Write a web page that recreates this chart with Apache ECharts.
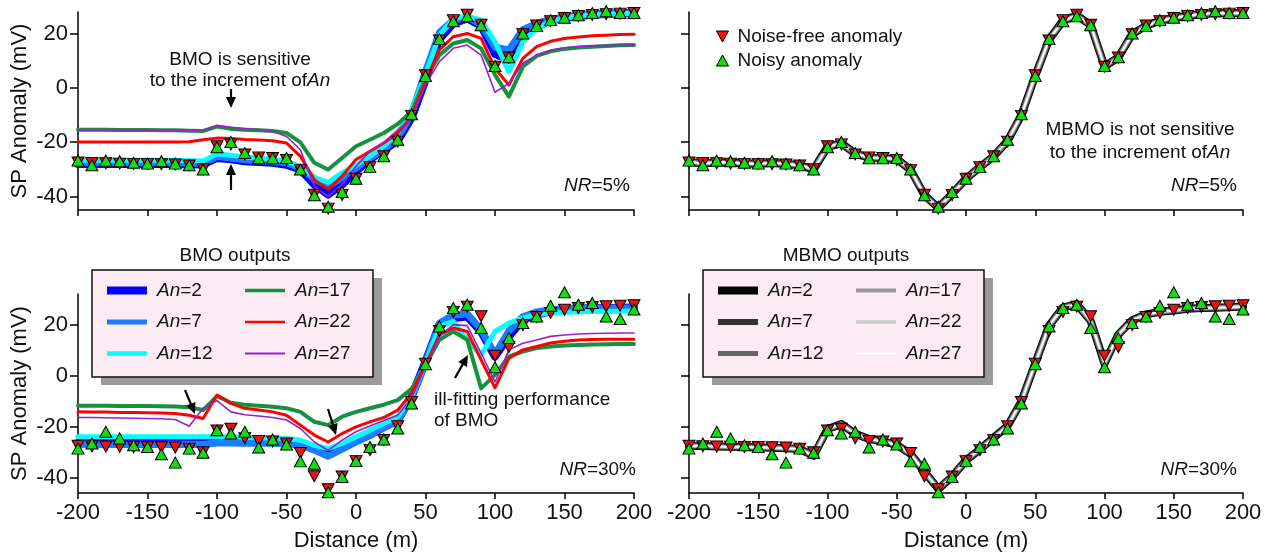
<!DOCTYPE html>
<html><head><meta charset="utf-8">
<script src="https://cdn.jsdelivr.net/npm/echarts@6/dist/echarts.min.js"></script>
<style>html,body{margin:0;padding:0;background:#fff}#c{width:1270px;height:554px}</style>
</head><body><div id="c"></div>
<script>
// ---------- data ----------
const distance = [-200,-190,-180,-170,-160,-150,-140,-130,-120,-110,-100,-90,-80,-70,-60,-50,-40,-30,-20,-10,0,10,20,30,40,50,60,70,80,90,100,110,120,130,140,150,160,170,180,190,200];
const xTicks = [-200,-150,-100,-50,0,50,100,150,200];
const yTicks = [-40,-20,0,20];

const noiseFree = [-27.5,-27.7,-27.8,-27.9,-28.0,-28.0,-28.1,-28.2,-28.6,-30.0,-21.5,-20.8,-24.5,-25.6,-25.8,-26.6,-30.3,-39.4,-44.5,-39.5,-33.5,-29.2,-25.2,-19.8,-10.3,4.7,17.5,25.0,27.0,23.3,7.8,11.2,19.8,23.0,24.6,25.8,26.5,26.9,27.2,27.4,27.6];
const noisy5 = [-26.8,-28.5,-26.8,-27.0,-27.6,-27.9,-27.0,-27.9,-28.5,-30.1,-21.9,-19.9,-24.0,-25.9,-25.9,-25.8,-30.1,-39.6,-43.8,-38.4,-33.5,-29.2,-25.2,-19.1,-9.7,4.4,18.0,24.6,26.4,23.1,8.1,11.3,20.1,22.8,25.0,25.9,26.8,27.6,28.3,27.6,27.6];
const noisy30 = [-28.6,-26.6,-22.0,-24.6,-27.3,-28.0,-30.8,-34.1,-28.6,-30.2,-21.4,-22.7,-22.0,-28.2,-25.0,-27.0,-33.6,-34.5,-45.7,-39.7,-33.5,-28.0,-25.0,-20.7,-10.9,4.5,19.3,26.5,27.8,18.7,3.3,14.7,20.6,23.2,27.4,32.7,27.8,28.5,23.2,22.2,25.9];

// BMO outputs, NR = 5%
const bmo5_An2  = [-28.0,-28.0,-28.0,-28.0,-28.0,-28.0,-28.0,-28.0,-28.1,-28.2,-25.8,-26.3,-27.0,-27.3,-27.6,-28.3,-30.1,-35.6,-39.3,-35.6,-30.7,-26.4,-22.8,-19.5,-11.0,3.0,18.0,23.8,25.6,23.0,12.5,10.5,19.5,22.6,24.8,25.9,26.5,27.0,27.3,27.5,27.6];
const bmo5_An7  = [-27.6,-27.6,-27.6,-27.6,-27.6,-27.6,-27.6,-27.6,-27.7,-27.8,-25.3,-25.8,-26.5,-26.8,-27.0,-27.6,-29.5,-33.5,-36.2,-33.0,-29.5,-26.0,-22.5,-18.5,-9.5,6.0,20.5,25.0,26.0,23.5,15.0,14.0,21.5,23.8,25.3,26.2,26.8,27.1,27.3,27.5,27.6];
const bmo5_An12 = [-26.7,-26.7,-26.7,-26.7,-26.7,-26.7,-26.7,-26.7,-26.8,-26.9,-24.3,-24.8,-25.5,-25.9,-26.2,-27.0,-29.0,-33.1,-34.8,-31.3,-28.5,-25.2,-21.5,-16.6,-8.0,5.0,19.4,25.6,26.5,25.0,17.0,6.0,17.0,22.0,24.5,25.8,26.5,27.0,27.2,27.4,27.5];
const bmo5_An17 = [-15.4,-15.4,-15.4,-15.5,-15.5,-15.5,-15.6,-15.6,-15.8,-15.9,-14.2,-15.1,-15.4,-15.6,-15.9,-16.6,-20.1,-27.6,-30.1,-25.8,-21.5,-19.1,-16.6,-13.3,-8.7,3.5,12.1,16.4,17.7,14.6,4.8,-3.2,7.8,11.8,13.5,14.4,14.9,15.2,15.5,15.7,15.8];
const bmo5_An22 = [-19.9,-19.9,-19.9,-19.9,-19.9,-19.9,-19.9,-19.9,-19.8,-19.1,-18.5,-18.6,-19.0,-19.2,-19.5,-20.3,-25.2,-33.8,-37.4,-32.5,-26.4,-23.4,-20.3,-16.6,-10.5,2.3,14.0,18.9,20.1,18.3,7.2,1.1,10.9,15.2,17.2,18.2,18.8,19.2,19.4,19.7,19.8];
const bmo5_An27 = [-15.7,-15.7,-15.7,-15.7,-15.7,-15.7,-15.7,-15.7,-15.7,-15.5,-13.9,-14.5,-15.0,-15.3,-16.0,-17.9,-22.8,-36.2,-40.1,-35.6,-28.9,-23.4,-20.1,-15.5,-11.0,1.1,9.7,14.6,15.8,12.1,-1.6,1.7,9.1,12.1,13.9,14.8,15.2,15.5,15.6,15.8,15.9];

// BMO outputs, NR = 30%
const bmo30_An2  = [-26.4,-26.4,-26.4,-26.4,-26.4,-26.4,-26.4,-26.4,-26.4,-26.4,-25.7,-25.7,-25.8,-25.8,-25.8,-25.9,-26.4,-28.4,-30.6,-28.0,-25.3,-23.0,-20.1,-17.6,-8.3,5.5,20.0,22.6,23.2,17.3,7.5,15.4,21.9,23.9,25.2,25.9,26.3,26.4,26.5,26.6,26.7];
const bmo30_An7  = [-27.0,-27.0,-27.0,-27.0,-27.0,-27.0,-27.0,-27.0,-27.0,-27.0,-26.4,-26.4,-26.5,-26.5,-26.5,-26.6,-27.2,-29.2,-31.6,-28.8,-26.0,-23.5,-20.5,-17.8,-8.5,5.0,20.5,23.8,24.2,18.0,8.4,17.5,23.1,25.0,25.8,26.2,26.5,26.5,26.5,26.5,26.5];
const bmo30_An12 = [-24.0,-24.0,-24.0,-24.0,-24.0,-24.0,-24.0,-24.0,-24.0,-24.0,-24.0,-24.0,-24.2,-24.3,-24.4,-24.6,-25.3,-27.3,-28.6,-26.6,-24.0,-21.4,-18.8,-16.1,-8.3,4.9,19.3,21.3,14.0,8.1,17.3,20.6,22.6,23.9,24.5,24.8,25.0,25.1,25.2,25.2,25.3];
const bmo30_An17 = [-11.8,-11.8,-11.8,-11.9,-11.9,-11.9,-12.0,-12.1,-12.4,-13.5,-8.0,-10.6,-11.4,-11.8,-12.2,-12.8,-14.2,-18.1,-19.4,-16.1,-14.2,-12.8,-11.4,-9.6,-5.2,4.2,14.1,17.3,14.1,-5.0,0.3,7.5,9.4,10.8,11.4,11.8,12.0,12.2,12.3,12.4,12.4];
const bmo30_An22 = [-14.2,-14.3,-14.3,-14.4,-14.4,-14.5,-14.6,-14.8,-15.5,-16.8,-7.6,-10.9,-12.8,-13.5,-14.2,-15.5,-19.4,-23.3,-26.0,-22.7,-20.1,-18.1,-16.4,-13.5,-6.9,4.2,16.0,18.7,17.3,6.2,-4.8,6.8,10.1,11.4,12.8,13.5,14.0,14.2,14.3,14.3,14.3];
const bmo30_An27 = [-16.4,-16.4,-16.5,-16.6,-16.7,-16.8,-16.9,-17.2,-19.8,-12.8,-9.8,-14.2,-15.3,-15.8,-16.4,-17.4,-20.7,-26.0,-29.3,-25.3,-22.0,-19.7,-17.6,-15.5,-8.9,3.5,15.4,20.0,19.6,8.8,-2.5,10.1,12.7,14.0,15.4,15.9,16.3,16.5,16.6,16.7,16.7];

// MBMO outputs (all An values overlap)
const mbmo5  = [-27.2,-27.9,-27.4,-27.5,-27.8,-28.0,-27.6,-28.0,-28.5,-30.0,-21.7,-20.4,-24.2,-25.7,-25.8,-26.2,-30.2,-39.5,-44.2,-39.0,-33.5,-29.2,-25.2,-19.5,-10.0,4.5,17.8,24.8,26.7,23.2,8.0,11.2,19.9,22.9,24.8,25.8,26.6,27.2,27.6,27.5,27.6];
const mbmo30 = [-27.5,-27.6,-27.8,-27.9,-28.0,-28.1,-28.3,-28.5,-28.8,-31.4,-20.9,-19.0,-22.8,-24.8,-25.8,-27.1,-30.7,-37.7,-44.4,-39.6,-33.2,-28.9,-24.3,-19.8,-10.1,4.8,19.6,26.7,28.0,21.5,4.8,16.1,21.7,24.0,25.0,25.5,26.2,26.5,26.6,26.8,27.1];

const anValues = [2,7,12,17,22,27];
const bmoColors = ['#0000ff','#1a7cff','#00ffff','#16913d','#ff0000','#9a1fcf'];
const bmoWidths = [8,7,5,4,3,1.6];
const bmoLegendH = [8,5,4.5,3.5,2.5,1.8];
const mbmoColors = ['#000000','#333333','#666666','#999999','#cccccc','#ffffff'];
const mbmoWidths = [8,6.4,5,3.8,2.8,1.5];
const mbmoLegendH = [8,6,5,4,3.5,2];

// ---------- chart ----------
const FONT = 'Liberation Sans, Arial, sans-serif';
const TXT = '#111';
const pts = v => distance.map((x,i)=>[x, v[i]]);

const grids = [
  {left:78, top:12, width:556, height:198},
  {left:689, top:12, width:554, height:198},
  {left:78, top:294, width:556, height:199},
  {left:689, top:294, width:554, height:199}
];
const yRanges = [[-45,28],[-45,28],[-46,32],[-46,32]];

const xAxes = grids.map((g,i)=>({
  type:'value', gridIndex:i, min:-200, max:200, interval:50,
  axisLine:{show:true, onZero:false, lineStyle:{color:'#000', width:1.5}},
  axisTick:{show:true, inside:false, length:6, lineStyle:{color:'#000', width:1.5}, customValues:xTicks},
  axisLabel:{show:i>=2, customValues:xTicks, margin:9, fontSize:22, color:TXT, fontFamily:FONT},
  splitLine:{show:false},
  name: i>=2 ? 'Distance (m)' : '', nameLocation:'middle', nameGap:37,
  nameTextStyle:{fontSize:22, color:TXT, fontFamily:FONT}
}));
const yAxes = grids.map((g,i)=>({
  type:'value', gridIndex:i, min:yRanges[i][0], max:yRanges[i][1],
  axisLine:{show:true, onZero:false, lineStyle:{color:'#000', width:1.5}},
  axisTick:{show:true, inside:false, length:8, lineStyle:{color:'#000', width:1.5}, customValues:yTicks},
  axisLabel:{show:i%2===0, customValues:yTicks, margin:10, fontSize:22, color:TXT, fontFamily:FONT},
  splitLine:{show:false},
  name: i%2===0 ? 'SP Anomaly (mV)' : '', nameLocation:'middle', nameGap:47,
  nameTextStyle:{fontSize:22, color:TXT, fontFamily:FONT}
}));

const series = [];
function addLine(name, vals, color, width, gi){
  series.push({type:'line', name, xAxisIndex:gi, yAxisIndex:gi, data:pts(vals),
    showSymbol:false, symbol:'none', clip:false, silent:true, z:2,
    lineStyle:{color, width, join:'round', cap:'round'}, itemStyle:{color}});
}
const bmo5 = [bmo5_An2,bmo5_An7,bmo5_An12,bmo5_An17,bmo5_An22,bmo5_An27];
const bmo30 = [bmo30_An2,bmo30_An7,bmo30_An12,bmo30_An17,bmo30_An22,bmo30_An27];
anValues.forEach((a,k)=>addLine('BMO An='+a, bmo5[k], bmoColors[k], bmoWidths[k], 0));
anValues.forEach((a,k)=>addLine('MBMO An='+a, mbmo5, mbmoColors[k], mbmoWidths[k], 1));
anValues.forEach((a,k)=>addLine('BMO An='+a, bmo30[k], bmoColors[k], bmoWidths[k], 2));
anValues.forEach((a,k)=>addLine('MBMO An='+a, mbmo30, mbmoColors[k], mbmoWidths[k], 3));

const RED = '#ee1111', GREEN = '#11dd11';
const noisyByPanel = [noisy5, noisy5, noisy30, noisy30];
[0,1,2,3].forEach(gi=>{
  series.push({type:'scatter', name:'Noise-free anomaly', xAxisIndex:gi, yAxisIndex:gi, data:pts(noiseFree),
    symbol:'triangle', symbolRotate:180, symbolSize:[12,11], clip:false, silent:true, z:4,
    itemStyle:{color:RED, borderColor:'#000', borderWidth:1, opacity:1}});
});
[0,1,2,3].forEach(gi=>{
  series.push({type:'scatter', name:'Noisy anomaly', xAxisIndex:gi, yAxisIndex:gi, data:pts(noisyByPanel[gi]),
    symbol:'triangle', symbolSize:[12,11], clip:false, silent:true, z:5,
    itemStyle:{color:GREEN, borderColor:'#000', borderWidth:1, opacity:1}});
});

// legends
const legends = [];
const rowsY = [291, 322.5, 354];
function addLegendItem(name, color, h, left, cy){
  legends.push({
    data:[{name, icon:'rect', itemStyle:{color, borderWidth:0}}],
    left, top: cy - 10, padding:0, itemWidth:40, itemHeight:h, z:20,
    selectedMode:false,
    formatter: n => '{i|An}=' + n.split('=')[1],
    textStyle:{fontSize:19, color:TXT, fontFamily:FONT, padding:[0,0,0,5],
      rich:{i:{fontStyle:'italic', fontSize:19, color:TXT, fontFamily:FONT}}}
  });
}
anValues.forEach((a,k)=>{
  const col = Math.floor(k/3), row = k%3;
  addLegendItem('BMO An='+a, bmoColors[k], bmoLegendH[k], col===0?107:245, rowsY[row]);
  addLegendItem('MBMO An='+a, mbmoColors[k], mbmoLegendH[k], col===0?718:856, rowsY[row]);
});
legends.push({
  orient:'vertical', left:716, top:27, padding:0, itemGap:5, itemWidth:12, itemHeight:11, z:20,
  selectedMode:false,
  data:[
    {name:'Noise-free anomaly', icon:'path://M0,0L12,0L6,11Z', itemStyle:{color:RED, borderColor:'#000', borderWidth:1}},
    {name:'Noisy anomaly', icon:'triangle', itemStyle:{color:GREEN, borderColor:'#000', borderWidth:1}}
  ],
  textStyle:{fontSize:19, color:TXT, fontFamily:FONT, padding:[0,0,0,4]}
});

// annotations
function txt(x, y, text, align, extra){
  return Object.assign({type:'text', x, y, z:15, silent:true,
    style:{text, fill:TXT, font:'19px '+FONT, textAlign:align||'center', textVerticalAlign:'middle',
      rich:{i:{fontStyle:'italic', fontSize:19, fontFamily:FONT, fill:TXT}}}}, extra||{});
}
function arrow(x1,y1,x2,y2){
  const dx=x2-x1, dy=y2-y1, L=Math.hypot(dx,dy), ux=dx/L, uy=dy/L;
  const hl=11, hw=5;
  const bx=x2-ux*hl, by=y2-uy*hl;
  return [
    {type:'line', z:15, silent:true, shape:{x1, y1, x2:bx+ux*2, y2:by+uy*2}, style:{stroke:'#000', lineWidth:2.2}},
    {type:'polygon', z:15, silent:true, shape:{points:[[x2,y2],[bx-uy*hw, by+ux*hw],[bx+uy*hw, by-ux*hw]]}, style:{fill:'#000'}}
  ];
}
function box(x, y, w, h){
  return [
    {type:'rect', z:12, silent:true, shape:{x:x+9, y:y+8, width:w, height:h}, style:{fill:'#9a9a9a'}},
    {type:'rect', z:13, silent:true, shape:{x, y, width:w, height:h}, style:{fill:'#fbebf2', stroke:'#111', lineWidth:1.5}}
  ];
}
const graphics = [].concat(
  box(92, 270, 281, 107),
  box(703, 270, 281, 107),
  [
    txt(235, 256, 'BMO outputs'),
    txt(846, 256, 'MBMO outputs'),
    txt(240, 60, 'BMO is sensitive'),
    txt(240, 81, 'to the increment of{i|An}'),
    txt(1140, 130, 'MBMO is not sensitive'),
    txt(1140, 153, 'to the increment of{i|An}'),
    txt(630, 186, '{i|NR}=5%', 'right'),
    txt(1237, 186, '{i|NR}=5%', 'right'),
    txt(636, 470, '{i|NR}=30%', 'right'),
    txt(1237, 470, '{i|NR}=30%', 'right'),
    txt(434, 400, 'ill-fitting performance', 'left'),
    txt(434, 421, 'of BMO', 'left')
  ],
  arrow(231, 89, 231, 108),
  arrow(231, 190, 231, 164),
  arrow(185, 390, 195, 414),
  arrow(328, 409, 336, 435),
  arrow(455, 378, 468, 355)
);

const chart = echarts.init(document.getElementById('c'), null, {renderer:'canvas'});
chart.setOption({
  animation:false,
  backgroundColor:'#ffffff',
  textStyle:{fontFamily:FONT},
  grid:grids, xAxis:xAxes, yAxis:yAxes,
  legend:legends,
  series,
  graphic:{elements:graphics}
});
</script></body></html>
